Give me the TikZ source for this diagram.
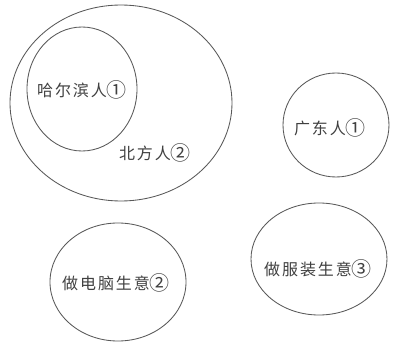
\documentclass[tikz,border=0pt]{standalone}
\usepackage{fontspec}
\newfontfamily\cjk[LetterSpace=12]{Noto Sans CJK SC}
\newcommand\circd[1]{\raisebox{-0.08em}{\scalebox{1.25}{#1}}}
\begin{document}
\begin{tikzpicture}[x=1pt,y=-1pt,
  ring/.style={draw=black!65,line width=0.85pt},
  lbl/.style={font=\cjk\fontsize{16}{16}\selectfont,text=black!75,inner sep=0pt}]
\useasboundingbox[fill=white] (0,0) rectangle (413,342);
\draw[ring] (121,103) ellipse (111 and 98);
\draw[ring] (82,89) ellipse (55 and 62);
\draw[ring] (336,125) ellipse (53 and 52);
\draw[ring] (118,282) ellipse (68 and 59);
\draw[ring] (319,259) ellipse (68 and 56);
\node[lbl] (harbin) at (82,90) {哈尔滨人\circd{①}};
\node[lbl] (north) at (155,153) {北方人\circd{②}};
\node[lbl] (canton) at (330,128) {广东人\circd{①}};
\node[lbl] (pc) at (116,283) {做电脑生意\circd{②}};
\node[lbl] (cloth) at (318,269) {做服装生意\circd{③}};
\end{tikzpicture}
\end{document}
